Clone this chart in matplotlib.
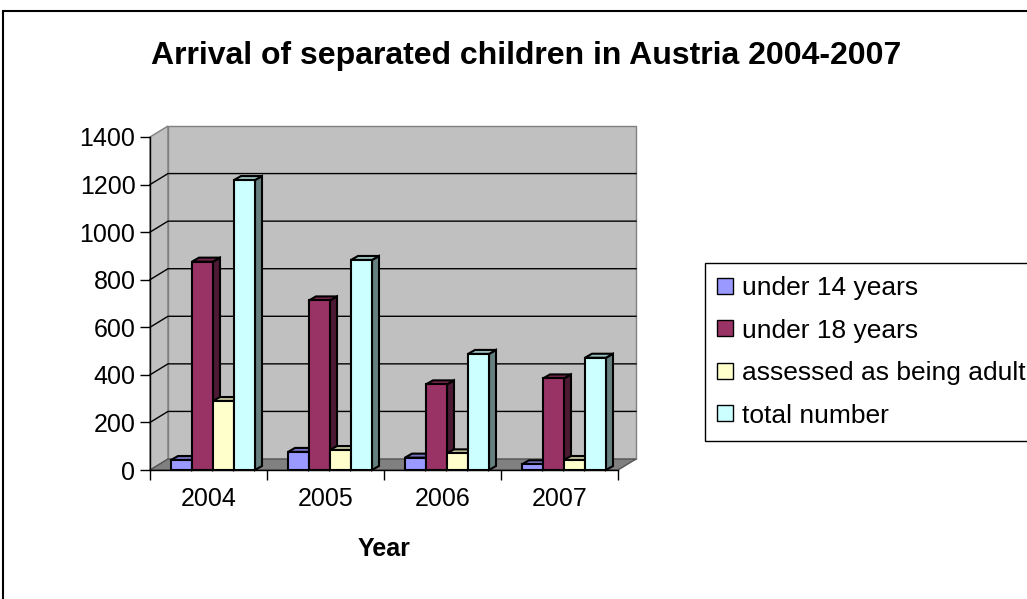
import matplotlib
matplotlib.use('Agg')
import matplotlib.pyplot as plt
from matplotlib.patches import Polygon, Rectangle
from matplotlib.lines import Line2D

plt.rcParams['font.family'] = ['Liberation Sans', 'DejaVu Sans']

years = ['2004', '2005', '2006', '2007']
series = ['under 14 years', 'under 18 years', 'assessed as being adult', 'total number']
under_14 = [42, 76, 52, 24]
under_18 = [876, 713, 360, 385]
adult = [290, 84, 70, 42]
total = [1219, 883, 488, 472]
values = [under_14, under_18, adult, total]

front_cols = ['#9999FF', '#993366', '#FFFFCC', '#CCFFFF']


def shade(hexcol, f):
    r, g, b = matplotlib.colors.to_rgb(hexcol)
    return (r * f, g * f, b * f)


W, H = 1027, 599
fig = plt.figure(figsize=(W / 100, H / 100), dpi=100)
ax = fig.add_axes([150 / W, 1 - 470 / H, 468 / W, 333 / H])
ymax = 1400
ax.set_xlim(0, len(years))
ax.set_ylim(0, ymax)
ax.patch.set_visible(False)

# pixel -> data helpers
px_x = 468 / len(years)
px_y = 333 / ymax
DX, DY = 18 / px_x, 11 / px_y      # wall depth
bdx, bdy = 7 / px_x, 4 / px_y      # bar depth
n = len(years)

wall = '#C0C0C0'
ax.add_patch(Polygon([(0, 0), (0, ymax), (DX, ymax + DY), (DX, DY)],
                     fc=wall, ec='#808080', lw=1, zorder=1, clip_on=False))
ax.add_patch(Polygon([(DX, DY), (DX, ymax + DY), (n + DX, ymax + DY), (n + DX, DY)],
                     fc=wall, ec='#808080', lw=1, zorder=1, clip_on=False))
ax.add_patch(Polygon([(0, 0), (n, 0), (n + DX, DY), (DX, DY)],
                     fc='#808080', ec='#555555', lw=1, zorder=2, clip_on=False))

for v in range(200, ymax, 200):
    ax.plot([0, DX, n + DX], [v, v + DY, v + DY], color='black', lw=1,
            zorder=1.5, clip_on=False)

bw = 21 / px_x
start = 21 / px_x
for i in range(n):
    for j, vals in enumerate(values):
        v = vals[i]
        x0 = i + start + j * bw
        z = 3 + j
        c = front_cols[j]
        ax.add_patch(Polygon([(x0 + bw, 0), (x0 + bw + bdx, bdy), (x0 + bw + bdx, v + bdy), (x0 + bw, v)],
                             fc=shade(c, 0.5), ec='black', lw=1.5, zorder=z, clip_on=False))
        ax.add_patch(Polygon([(x0, v), (x0 + bw, v), (x0 + bw + bdx, v + bdy), (x0 + bdx, v + bdy)],
                             fc=shade(c, 0.75), ec='black', lw=1.5, zorder=z, clip_on=False))
        ax.add_patch(Rectangle((x0, 0), bw, v, fc=c, ec='black', lw=1.5,
                               zorder=z, clip_on=False))

for s in ['top', 'right']:
    ax.spines[s].set_visible(False)
for s in ['left', 'bottom']:
    ax.spines[s].set_color('black')
    ax.spines[s].set_linewidth(1)
    ax.spines[s].set_zorder(10)

ax.set_yticks(range(0, ymax + 1, 200))
ax.tick_params(axis='y', labelsize=18, length=7, width=1, pad=3.5)
ax.set_xticks(range(n + 1))
ax.set_xticklabels([])
ax.set_xticks([i + 0.5 for i in range(n)], minor=True)
ax.set_xticklabels(years, minor=True)
ax.tick_params(axis='x', which='major', length=7, width=1)
ax.tick_params(axis='x', which='minor', length=0, labelsize=18, pad=12.5)

fig.text(526 / W, 1 - 56 / H, 'Arrival of separated children in Austria 2004-2007',
         ha='center', va='center', fontsize=23, fontweight='bold')
fig.text(384 / W, 1 - 549 / H, 'Year', ha='center', va='center',
         fontsize=18, fontweight='bold')

handles = [Line2D([], [], marker='s', ls='', mfc=c, mec='black', ms=11, mew=1)
           for c in front_cols]
leg = fig.legend(handles, series, loc='upper left',
                 bbox_to_anchor=(705 / W, 1 - 263 / H), bbox_transform=fig.transFigure,
                 fontsize=19, frameon=True, fancybox=False, edgecolor='black',
                 framealpha=1, borderpad=0.5, labelspacing=0.7, handletextpad=0.34,
                 handlelength=0.55, borderaxespad=0)
leg.get_frame().set_linewidth(1)

fig.add_artist(Rectangle((3 / W, -0.1), 2, 1 - 11 / H + 0.1, transform=fig.transFigure,
                         fill=False, ec='black', lw=1.5))

fig.savefig('out.png', dpi=100)
